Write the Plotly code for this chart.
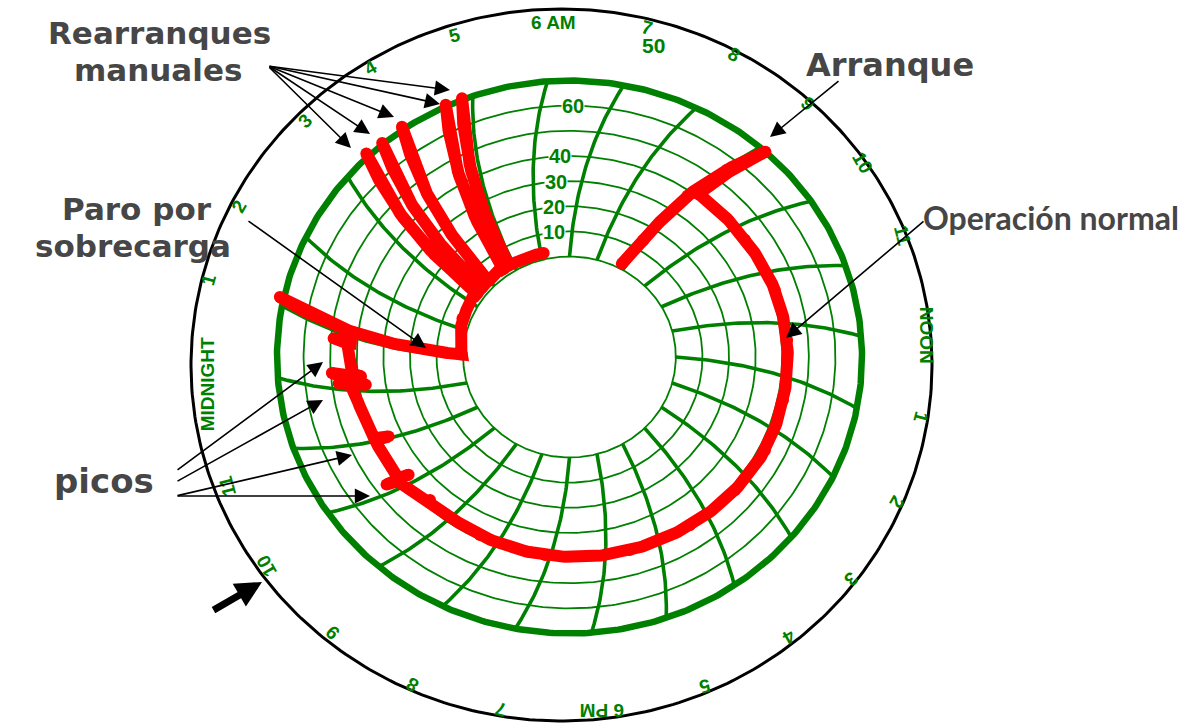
import numpy as np
import plotly.graph_objects as go

# ---------------- recorded data ----------------
# Hour of day (values past 24 continue into the next morning) and current in amperes.
TRACE_H = [
    7.85, 7.95, 7.98, 8.04, 8.09,
    8.09, 9.29, 10.36, 11.31, 12.43, 13.41, 14.32, 15.37, 16.55, 18.10, 19.36, 20.52,
    21.14, 21.16, 21.17, 21.19,
    22.02, 22.04, 22.06,
    23.09, 23.11, 23.13, 23.20, 23.27, 23.29, 23.32,
    23.85, 23.87, 23.89,
    24.09, 24.09, 24.09,
    25.37, 26.38, 26.38, 26.38, 26.64, 26.64, 26.64, 26.97, 26.97, 26.97,
    27.62, 27.62, 27.62, 27.85, 27.85, 27.85,
    29.10,
]
TRACE_A = [
    2, 14, 38, 55, 70,
    41, 40.8, 41.7, 42.1, 42.1, 42.3, 41.7, 40.8, 40.1, 39.3, 38.4, 37.4,
    40.4, 45.5, 36.5, 40.4,
    40.2, 35, 40.2,
    42, 47.4, 37.4, 42, 49.6, 38.8, 42,
    42.7, 49, 42.5,
    42.5, 71.5, 0.5,
    3.1, 3, 71.3, 3, 3, 70.5, 3, 3, 71.2, 3,
    3, 70.6, 3, 3, 70.6, 3,
    2.5,
]

HOUR_LABELS = ["MIDNIGHT", "1", "2", "3", "4", "5", "6 AM", "7", "8", "9", "10", "11",
               "NOON", "1", "2", "3", "4", "5", "6 PM", "7", "8", "9", "10", "11"]
SCALE_VALUES = [10, 20, 30, 40, 60]
RING_AMPS = [0, 10, 20, 30, 40, 50, 60]
FULL_SCALE = 70

# ---------------- chart geometry (canvas units, y downwards) ----------------
W, H = 1182, 723
CX, CY = 569.5, 357.0
ASPECT = 1.058          # horizontal stretch of the disc
R_ZERO = 100.5          # radius of the 0 A ring
PX_PER_AMP = 2.514
GREEN = "#008000"
RED = "#ff0000"
GREY = "#464646"

# where each hour name sits on the printed rim (same order as HOUR_LABELS)
HOUR_LABEL_POS = [
    (207.5, 384.8), (208, 280), (239, 206.7), (305.8, 120.8), (370.8, 67.5), (454, 35),
    (553.3, 22.5), (647, 27), (734, 54), (808, 103), (862.5, 162.5), (903, 235),
    (926.7, 335.5), (920.8, 417.5), (896.7, 502.5), (850.8, 579.5), (789, 636.7),
    (705, 685.8), (602.5, 711), (501, 709.5), (411.7, 685), (332.5, 632.5),
    (266.7, 565.8), (227.5, 485.8),
]


def arc_lead(amps):
    """Angular lead (deg) of a time arc at a given current: the pen swings on an arm."""
    a = np.asarray(amps, float)
    return 0.104 * a + 0.000697 * a ** 2


def to_xy(hours, amps):
    h = np.asarray(hours, float)
    a = np.asarray(amps, float)
    theta = np.radians((h - 6.0) * 15.0 + arc_lead(a))
    r = R_ZERO + PX_PER_AMP * a
    return CX + ASPECT * r * np.sin(theta), CY - r * np.cos(theta)


def pen_path(hours, amps):
    """Trace every pen move in small steps so it follows the curved chart coordinates."""
    hs, am = [hours[0]], [amps[0]]
    for h0, a0, h1, a1 in zip(hours[:-1], amps[:-1], hours[1:], amps[1:]):
        n = max(1, int(max(abs(a1 - a0) / 0.5, abs(h1 - h0) / 0.04)))
        f = np.linspace(0, 1, n + 1)[1:]
        hs.extend(h0 + (h1 - h0) * f)
        am.extend(a0 + (a1 - a0) * f)
    x, y = to_xy(hs, am)
    return x, y, hs, am


fig = go.Figure()

# outer black rim of the paper disc
t = np.linspace(0, 2 * np.pi, 400)
fig.add_trace(go.Scatter(x=561.5 + 370.5 * np.sin(t), y=365 - 356 * np.cos(t), mode="lines",
                         line=dict(color="black", width=3), hoverinfo="skip"))

# current rings
hh = np.linspace(0, 24, 481)
for a in RING_AMPS:
    x, y = to_xy(hh, np.full_like(hh, a))
    fig.add_trace(go.Scatter(x=x, y=y, mode="lines", line=dict(color=GREEN, width=1.8),
                             hoverinfo="skip"))
x, y = to_xy(hh, np.full_like(hh, FULL_SCALE))
fig.add_trace(go.Scatter(x=x, y=y, mode="lines", line=dict(color=GREEN, width=6.5),
                         hoverinfo="skip"))

# hourly time arcs
aa = np.linspace(0, FULL_SCALE, 60)
for hour in range(24):
    x, y = to_xy(np.full_like(aa, hour), aa)
    fig.add_trace(go.Scatter(x=x, y=y, mode="lines", line=dict(color=GREEN, width=3.6),
                             hoverinfo="skip"))

# recorded current
px, py, ph, pa = pen_path(TRACE_H, TRACE_A)
fig.add_trace(go.Scatter(x=px, y=py, mode="lines", line=dict(color=RED, width=12),
                         customdata=np.c_[np.mod(ph, 24), pa],
                         hovertemplate="%{customdata[0]:.2f} h<br>%{customdata[1]:.1f} A<extra></extra>"))
mx, my = to_xy(TRACE_H, TRACE_A)
fig.add_trace(go.Scatter(x=mx, y=my, mode="markers", marker=dict(color=RED, size=12),
                         hoverinfo="skip"))

annotations = []

# ampere scale
for v in SCALE_VALUES:
    x, y = to_xy(5.47, v)
    annotations.append(dict(x=float(x), y=float(y), text=f"<b>{v}</b>", showarrow=False,
                            font=dict(family="Liberation Sans, Arial", size=20, color=GREEN),
                            bgcolor="white", borderpad=0))
annotations.append(dict(x=653, y=45, text="<b>50</b>", showarrow=False,
                        font=dict(family="Liberation Sans, Arial", size=21, color=GREEN)))

# hour ring
for hour, (lab, (x, y)) in enumerate(zip(HOUR_LABELS, HOUR_LABEL_POS)):
    rot = (((hour - 6) * 15.0 + 180) % 360) - 180
    annotations.append(dict(x=x, y=y, text=f"<b>{lab}</b>", showarrow=False, textangle=rot,
                            font=dict(family="Liberation Sans, Arial", size=19, color=GREEN)))

# callouts
for txt, x, y, s in [("Rearranques", 159, 33, 31), ("manuales", 158, 70, 31),
                     ("Arranque", 890, 65, 32), ("Paro por", 137, 209, 31),
                     ("sobrecarga", 133, 246, 31), ("picos", 104, 481, 34)]:
    annotations.append(dict(x=x, y=y, text=f"<b>{txt}</b>", showarrow=False,
                            font=dict(family="DejaVu Sans", size=s, color=GREY)))
annotations.append(dict(x=1051, y=217, text="<b>Operación normal</b>", showarrow=False,
                        font=dict(family="Lato, Liberation Sans", size=32, color=GREY)))

ARROWS = [
    ((268, 66), (450, 90)), ((268, 66), (440, 104)), ((268, 66), (394, 117)),
    ((268, 66), (370, 134)), ((268, 66), (351, 148)),
    ((840, 80), (770, 137)),
    ((925, 220), (786, 338)),
    ((247, 220), (426, 348)),
    ((176, 471), (323, 362)), ((176, 482), (323, 400)),
    ((176, 496), (352, 455)), ((176, 496), (370, 496)),
]
for (tx, ty), (hx, hy) in ARROWS:
    annotations.append(dict(x=hx, y=hy, ax=tx, ay=ty, axref="x", ayref="y", text="",
                            showarrow=True, arrowhead=2, arrowsize=1.9, arrowwidth=1.6,
                            arrowcolor="black", standoff=0, startstandoff=0))
annotations.append(dict(x=262, y=582, ax=212, ay=611, axref="x", ayref="y", text="",
                        showarrow=True, arrowhead=2, arrowsize=0.75, arrowwidth=7,
                        arrowcolor="black", standoff=0, startstandoff=0))

fig.update_layout(
    width=W, height=H, margin=dict(l=0, r=0, t=0, b=0),
    paper_bgcolor="white", plot_bgcolor="white", showlegend=False,
    xaxis=dict(range=[0, W], visible=False, fixedrange=True),
    yaxis=dict(range=[H, 0], visible=False, fixedrange=True),
    annotations=annotations,
)

fig.write_html("out.html")
